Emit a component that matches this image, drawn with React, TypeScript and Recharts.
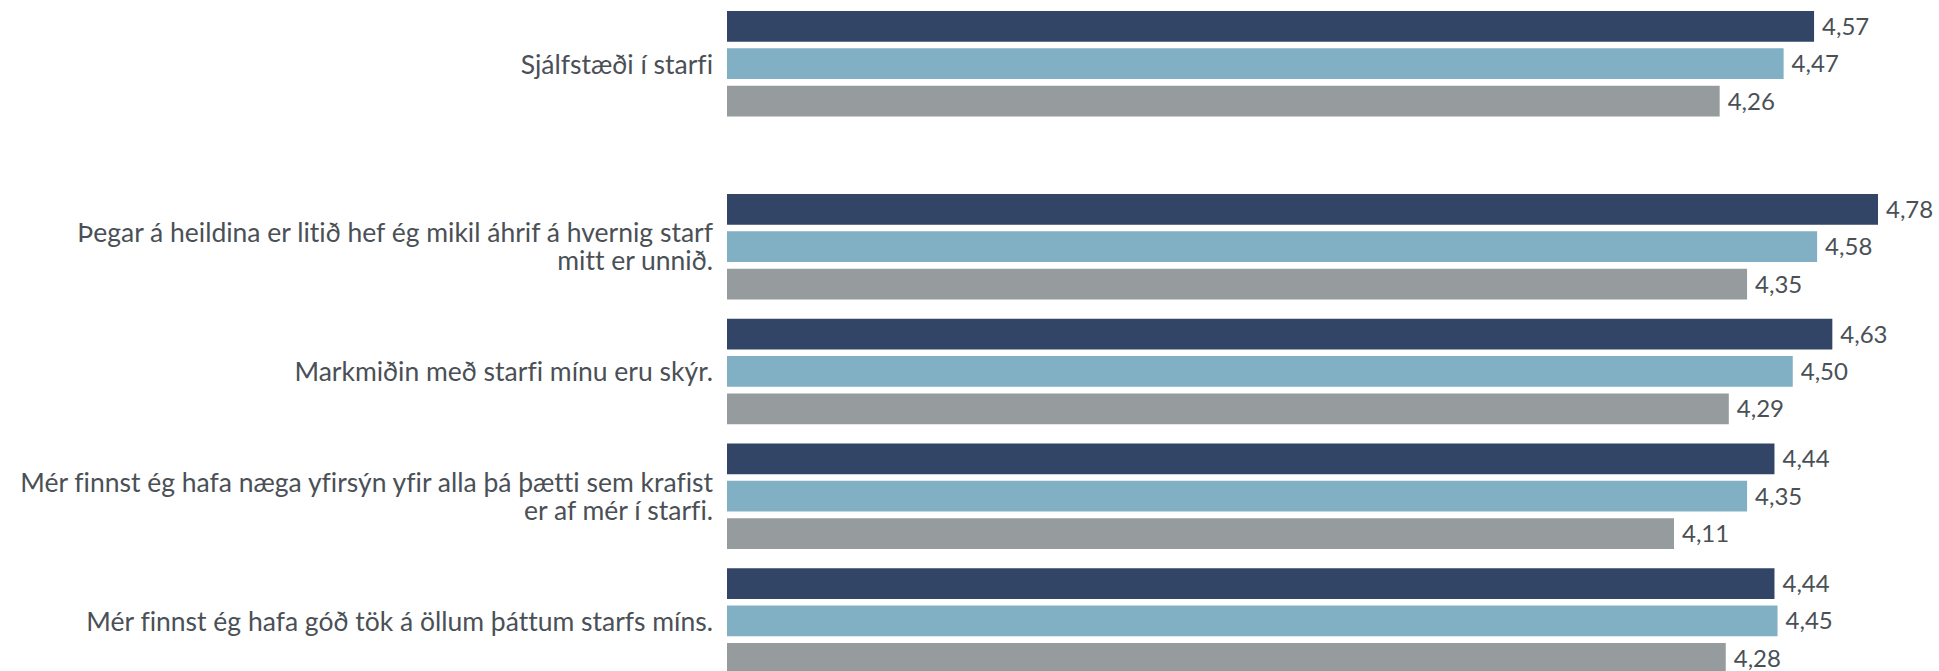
import React from "react";
import { BarChart, Bar, XAxis, YAxis, LabelList } from "recharts";

// top block (single summary row)
const SUMMARY_CATEGORIES = ["Sjálfstæði í starfi"];
const SUMMARY_A = [4.57];
const SUMMARY_B = [4.47];
const SUMMARY_C = [4.26];

// detail rows
const ITEM_CATEGORIES = [
  "Þegar á heildina er litið hef ég mikil áhrif á hvernig starf\nmitt er unnið.",
  "Markmiðin með starfi mínu eru skýr.",
  "Mér finnst ég hafa næga yfirsýn yfir alla þá þætti sem krafist\ner af mér í starfi.",
  "Mér finnst ég hafa góð tök á öllum þáttum starfs míns.",
];
const ITEM_A = [4.78, 4.63, 4.44, 4.44];
const ITEM_B = [4.58, 4.5, 4.35, 4.45];
const ITEM_C = [4.35, 4.29, 4.11, 4.28];

const COLORS = ["#324566", "#81afc4", "#969c9d"];
const TEXT = "#4a5056";
const FONT = "Lato, 'Noto Sans', sans-serif";

const toRows = (cats: string[], a: number[], b: number[], c: number[]) =>
  cats.map((name, i) => ({ name, a: a[i], b: b[i], c: c[i] }));

const fmt = (v: any) => Number(v).toFixed(2).replace(".", ",");

const CategoryTick = ({ x, y, payload }: any) => {
  const lines = String(payload.value).split("\n");
  const lh = 28;
  const startDy = -((lines.length - 1) * lh) / 2;
  return (
    <text
      x={x}
      y={y}
      textAnchor="end"
      fill={TEXT}
      fontFamily={FONT}
      fontSize={26.5}
      dominantBaseline="central"
      style={{ fontVariantLigatures: "none" }}
    >
      {lines.map((l, i) => (
        <tspan key={i} x={x} dy={i === 0 ? startDy : lh}>
          {l}
        </tspan>
      ))}
    </text>
  );
};

const Block = ({ data, height, top }: { data: any[]; height: number; top: number }) => (
  <div style={{ position: "absolute", left: 0, top }}>
    <BarChart
      width={1945}
      height={height}
      data={data}
      layout="vertical"
      margin={{ top: 0, right: 0, bottom: 0, left: 0 }}
      barGap={6.65}
      barSize={30.7}
    >
      <XAxis type="number" domain={[1, 5]} hide />
      <YAxis
        type="category"
        dataKey="name"
        width={727}
        axisLine={false}
        tickLine={false}
        tickMargin={8}
        interval={0}
        tick={<CategoryTick />}
      />
      {(["a", "b", "c"] as const).map((k, i) => (
        <Bar key={k} dataKey={k} fill={COLORS[i]} isAnimationActive={false}>
          <LabelList
            dataKey={k}
            position="right"
            offset={8}
            formatter={fmt}
            fill={TEXT}
            fontFamily={FONT}
            fontSize={24}
          />
        </Bar>
      ))}
    </BarChart>
  </div>
);

export default function App() {
  return (
    <div
      style={{
        position: "fixed",
        left: 0,
        top: 0,
        width: 1939,
        height: 671,
        overflow: "hidden",
        background: "#fff",
      }}
    >
      <Block data={toRows(SUMMARY_CATEGORIES, SUMMARY_A, SUMMARY_B, SUMMARY_C)} height={126} top={1} />
      <Block data={toRows(ITEM_CATEGORIES, ITEM_A, ITEM_B, ITEM_C)} height={499} top={184} />
    </div>
  );
}
